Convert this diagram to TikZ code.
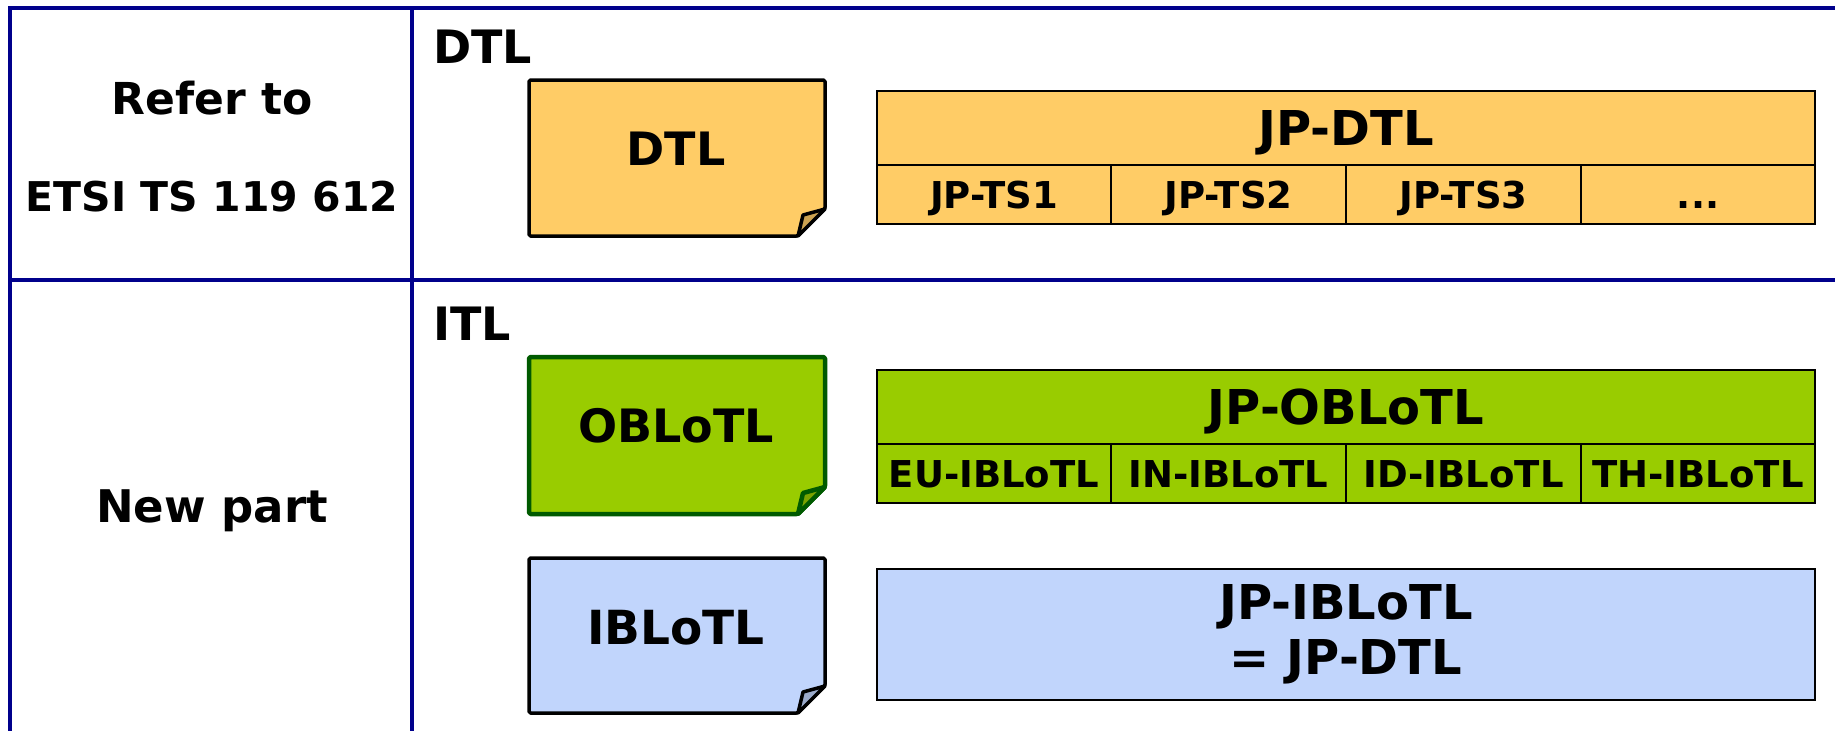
\documentclass[tikz,border=0pt]{standalone}
\usepackage{fontspec}
\setmainfont{DejaVu Sans}
\definecolor{framec}{RGB}{0,0,140}
\definecolor{orangef}{RGB}{255,204,102}
\definecolor{greenf}{RGB}{153,204,0}
\definecolor{greend}{RGB}{0,90,0}
\definecolor{bluef}{RGB}{193,213,252}
\newcommand\notesheet[7]{%
  \draw[line width=#7, draw=#6, fill=#5, rounded corners=1.5pt, line join=round]
    (#1,#2) -- (#3,#2) -- (#3,#4-27) -- (#3-27,#4) -- (#1,#4) -- cycle;
  \draw[line width=#7, draw=#6, fill=#5!80!black, line join=round]
    (#3-27,#4) -- (#3-22,#4-21) -- (#3,#4-27) -- cycle;
}
\tikzset{
  lbl/.style={font=\bfseries\fontsize{#1}{#1}\selectfont, inner sep=0pt, align=center},
  cell/.style={draw=black, line width=2pt, inner sep=0pt, minimum height=#1},
  subcell/.style={cell=59pt, lbl=37, text height=27pt, text depth=0pt},
  headcell/.style={cell=74pt, minimum width=938pt, lbl=48, text height=35pt, text depth=0pt},
  gridline/.style={draw=framec, line width=3.5pt}
}
\begin{document}
\begin{tikzpicture}[x=1pt,y=-1pt]
\useasboundingbox (0,0) rectangle (1835,731);
% frame
\coordinate (tl) at (10,8);
\coordinate (tr) at (1835,8);
\coordinate (bl) at (10,731);
\coordinate (dt) at (412,8);
\coordinate (db) at (412,731);
\coordinate (ml) at (10,280);
\coordinate (mr) at (1835,280);
\draw[gridline] (tr) -- (tl) -- (bl);
\draw[gridline] (dt) -- (db);
\draw[gridline] (ml) -- (mr);
% left column
\node[lbl=44] (refer) at (212,98) {Refer to};
\node[lbl=41] (etsi) at (212,197) {ETSI TS 119 612};
\node[lbl=45] (newpart) at (212,511) {New part};
% section headers
\node[lbl=46, anchor=west] (dtlhead) at (433,47) {DTL};
\node[lbl=46, anchor=west] (itlhead) at (433,324) {ITL};
% note sheets
\notesheet{529}{80}{825}{236}{orangef}{black}{3.5pt}
\node[lbl=46] (dtlnote) at (676,149) {DTL};
\notesheet{529}{357}{825}{514}{greenf}{greend}{4.5pt}
\node[lbl=46] (oblnote) at (676,426) {OBLoTL};
\notesheet{529}{558}{825}{713}{bluef}{black}{3.5pt}
\node[lbl=47] (iblnote) at (676,628) {IBLoTL};
% JP-DTL table
\node[headcell, fill=orangef] (jpdtl) at (1346,128) {JP-DTL};
\node[subcell, minimum width=234pt, fill=orangef] (ts1) at (994,194.5) {JP-TS1};
\node[subcell, minimum width=235pt, fill=orangef] (ts2) at (1228.5,194.5) {JP-TS2};
\node[subcell, minimum width=235pt, fill=orangef] (ts3) at (1463.5,194.5) {JP-TS3};
\node[subcell, minimum width=234pt, fill=orangef] (tsx) at (1698,194.5) {...};
% JP-OBLoTL table
\node[headcell, fill=greenf] (jpobl) at (1346,407) {JP-OBLoTL};
\node[subcell, minimum width=234pt, fill=greenf] (eu) at (994,473.5) {EU-IBLoTL};
\node[subcell, minimum width=235pt, fill=greenf] (in) at (1228.5,473.5) {IN-IBLoTL};
\node[subcell, minimum width=235pt, fill=greenf] (id) at (1463.5,473.5) {ID-IBLoTL};
\node[subcell, minimum width=234pt, fill=greenf] (th) at (1698,473.5) {TH-IBLoTL};
% JP-IBLoTL box
\node[cell=131pt, minimum width=938pt, fill=bluef, lbl=48, font=\bfseries\fontsize{48}{55}\selectfont] (jpibl) at (1346,634.5) {JP-IBLoTL\\= JP-DTL};
\end{tikzpicture}
\end{document}
